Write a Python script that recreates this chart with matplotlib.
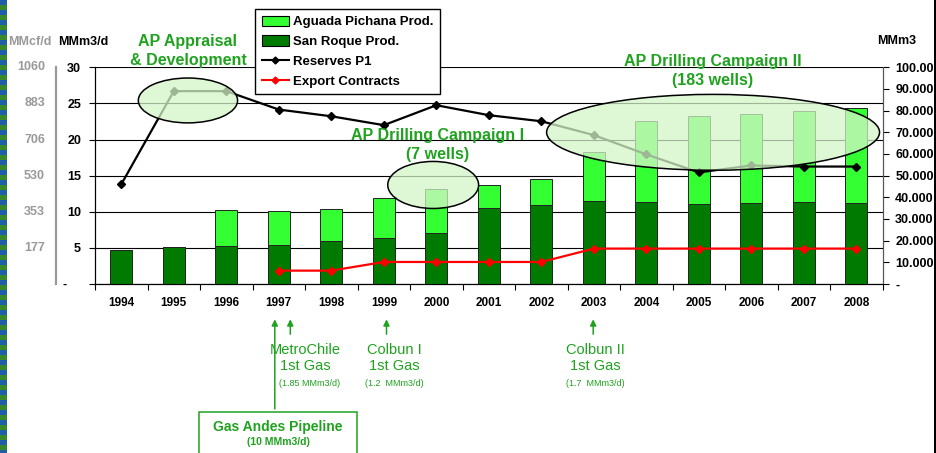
import numpy as np
import matplotlib
matplotlib.use("Agg")
import matplotlib.pyplot as plt
import matplotlib.transforms as mtransforms
from matplotlib.patches import Ellipse, Rectangle, Patch, FancyArrowPatch
from matplotlib.lines import Line2D

plt.rcParams["font.family"] = ["Liberation Sans", "DejaVu Sans"]

# data
years = ["1994", "1995", "1996", "1997", "1998", "1999", "2000", "2001",
         "2002", "2003", "2004", "2005", "2006", "2007", "2008"]
san_roque = [4.7, 5.1, 5.2, 5.4, 5.9, 6.3, 7.0, 10.5, 11.0, 11.5, 11.4, 11.1, 11.2, 11.4, 11.2]
aguada = [0.0, 0.0, 5.0, 4.7, 4.5, 5.55, 6.2, 3.2, 3.5, 6.8, 11.1, 12.1, 12.3, 12.5, 13.2]
reserves = [46, 89, 89, 80.5, 77.4, 73.3, 82.5, 77.9, 75.1, 68.7, 59.8, 51.5, 54.7, 54.2, 54.2]
export = [np.nan, np.nan, np.nan, 1.85, 1.85, 3.05, 3.05, 3.05, 3.05, 4.9, 4.9, 4.9, 4.9, 4.9, 4.9]

left_ticks = [0, 5, 10, 15, 20, 25, 30]
left_labels = ["-    ", "5", "10", "15", "20", "25", "30"]
mmcf_labels = ["177", "353", "530", "706", "883", "1060"]
right_ticks = [0, 10, 20, 30, 40, 50, 60, 70, 80, 90, 100]
right_labels = ["-"] + ["%d.000" % v for v in right_ticks[1:]]

LIGHT = "#33ff33"
DARK = "#007a00"
GREEN_TXT = "#1fa31f"
GRAY = "#999999"

W, H = 937, 453


def px(x, y):
    return x / W, 1 - y / H


fig = plt.figure(figsize=(W / 100, H / 100), dpi=100)
ax = fig.add_axes([95 / W, 1 - 284 / H, 787.7 / W, 216.7 / H])
ax2 = ax.twinx()

x = np.arange(len(years))
ax.bar(x, san_roque, width=0.42, color=DARK, edgecolor="#222222", linewidth=0.7, zorder=3)
ax.bar(x, aguada, width=0.42, bottom=san_roque, color=LIGHT, edgecolor="#222222",
       linewidth=0.7, zorder=3)
ax.plot(x, export, color="red", lw=1.6, marker="D", ms=4, zorder=4)
ax2.plot(x, reserves, color="black", lw=1.6, marker="D", ms=4, zorder=4)

ax.set_xlim(-0.5, len(years) - 0.5)
ax.set_ylim(0, 30)
ax2.set_ylim(0, 100)

ax.set_yticks(left_ticks)
ax.set_yticklabels(left_labels, fontweight="bold", fontsize=9)
ax.tick_params(axis="y", direction="out", length=4, pad=6, width=0.8)
ax2.set_yticks(right_ticks)
ax2.set_yticklabels(right_labels, fontweight="bold", fontsize=9)
ax2.tick_params(axis="y", direction="out", length=4, pad=5, width=0.8)

ax.set_xticks(x)
ax.set_xticklabels(years, fontweight="bold", fontsize=8.5)
ax.tick_params(axis="x", length=0, pad=9)
ax.set_xticks(np.arange(-0.5, len(years)), minor=True)
ax.tick_params(axis="x", which="minor", length=4, direction="out", width=0.8)

ax.yaxis.grid(True, color="black", lw=0.8, zorder=0)
ax.set_axisbelow(True)
for a in (ax, ax2):
    a.spines["top"].set_visible(False)
    a.spines["left"].set_linewidth(0.8)
    a.spines["right"].set_linewidth(0.8)
    a.spines["right"].set_color("#555555")
    a.spines["bottom"].set_linewidth(0.8)

# highlight ellipses (in right-axis data units)
for cx, cy, w, h in [(1.27, 84.7, 1.89, 20.7), (5.94, 45.7, 1.73, 21.7), (11.27, 70, 6.34, 35)]:
    ax2.add_patch(Ellipse((cx, cy), w, h, facecolor="#d4f5c8", alpha=0.75,
                          edgecolor="none", zorder=6, clip_on=False))
    ax2.add_patch(Ellipse((cx, cy), w, h, facecolor="none", edgecolor="black",
                          lw=1.1, zorder=7, clip_on=False))

# outer MMcf/d axis
blend = mtransforms.blended_transform_factory(fig.transFigure, ax.transData)
for v, lab in zip(left_ticks[1:], mmcf_labels):
    ax.text(45 / W, v, lab, transform=blend, ha="right", va="center",
            color=GRAY, fontweight="bold", fontsize=9, clip_on=False)
fig.add_artist(Line2D([56 / W, 56 / W], [1 - 67 / H, 1 - 284 / H], color=GRAY, lw=1.6))

fig.text(*px(30, 42), "MMcf/d", color=GRAY, fontweight="bold", fontsize=9, ha="center", va="center")
fig.text(*px(83, 42), "MMm3/d", color="black", fontweight="bold", fontsize=9, ha="center", va="center")
fig.text(*px(897, 41), "MMm3", color="black", fontweight="bold", fontsize=9, ha="center", va="center")

# annotations
fig.text(*px(188, 51), "AP Appraisal\n& Development", color=GREEN_TXT, fontweight="bold",
         fontsize=11.5, ha="center", va="center", linespacing=1.4)
fig.text(*px(438, 145), "AP Drilling Campaign I\n(7 wells)", color=GREEN_TXT, fontweight="bold",
         fontsize=11.5, ha="center", va="center", linespacing=1.4)
fig.text(*px(713, 71), "AP Drilling Campaign II\n(183 wells)", color=GREEN_TXT, fontweight="bold",
         fontsize=11.5, ha="center", va="center", linespacing=1.4)

# legend
handles = [Patch(facecolor=LIGHT, edgecolor="black", lw=0.8),
           Patch(facecolor=DARK, edgecolor="black", lw=0.8),
           Line2D([], [], color="black", marker="D", ms=3.5, lw=1.5),
           Line2D([], [], color="red", marker="D", ms=3.5, lw=1.5)]
labels = ["Aguada Pichana Prod.", "San Roque Prod.", "Reserves P1", "Export Contracts"]
leg = fig.legend(handles, labels, loc="upper left", bbox_to_anchor=px(255, 9),
                 borderaxespad=0, prop=dict(weight="bold", size=9.5), frameon=True,
                 fancybox=False, edgecolor="black", framealpha=1, handlelength=2.05,
                 handleheight=0.8, labelspacing=0.55, borderpad=0.5, handletextpad=0.3)
leg.get_frame().set_linewidth(1.0)
leg.set_zorder(10)

# milestones below the axis
arrow = dict(arrowstyle="-|>", color=GREEN_TXT, lw=1.1, mutation_scale=9)
for xa, y0 in [(274.8, 411.7), (290.3, 337), (386.5, 337), (593.2, 337)]:
    fig.add_artist(FancyArrowPatch(px(xa, y0), px(xa, 316.5),
                                   transform=fig.transFigure, **arrow))

for xc, name, sub in [(305, "MetroChile", "(1.85 MMm3/d)"), (394, "Colbun I", "(1.2  MMm3/d)"),
                      (595, "Colbun II", "(1.7  MMm3/d)")]:
    fig.text(*px(xc, 358), name + "\n1st Gas", color=GREEN_TXT, fontsize=10.5,
             ha="center", va="center", linespacing=1.15)
    fig.text(*px(xc + 5 if xc == 305 else xc, 383), sub, color=GREEN_TXT, fontsize=6.5,
             ha="center", va="center")

fig.add_artist(Rectangle(px(199, 470), (356.6 - 199) / W, (470 - 411.7) / H,
                         transform=fig.transFigure, facecolor="white",
                         edgecolor=GREEN_TXT, lw=1.1))
fig.text(*px(278, 426.5), "Gas Andes Pipeline", color=GREEN_TXT, fontweight="bold",
         fontsize=10, ha="center", va="center")
fig.text(*px(278, 442), "(10 MMm3/d)", color=GREEN_TXT, fontweight="bold",
         fontsize=7.5, ha="center", va="center")

# page decoration: striped left edge and black right border
for i, yy in enumerate(range(0, H, 5)):
    fig.add_artist(Rectangle(px(0, yy + 5), 7 / W, 5 / H, transform=fig.transFigure,
                             facecolor="#1f5fa8" if i % 2 == 0 else "#3a8a2a",
                             edgecolor="none", zorder=20))
fig.add_artist(Rectangle((934 / W, 0), 3 / W, 1, transform=fig.transFigure,
                         facecolor="black", edgecolor="none", zorder=20))

fig.savefig("out.png", dpi=100)
